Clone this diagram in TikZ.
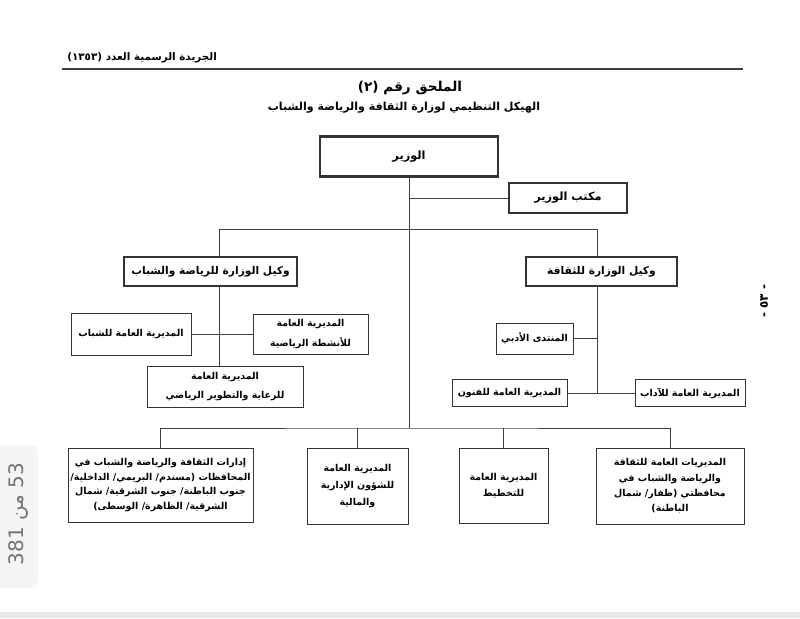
\documentclass[tikz,border=0pt]{standalone}
\usepackage{fontspec}
\newfontfamily\arabicfont[Script=Arabic]{DejaVu Sans}
\TeXXeTstate=1
\newcommand{\rtl}[1]{\beginR#1\endR}
\tikzset{
	unit/.style={draw=black!80, line width=0.75pt, fill=white, align=center, inner sep=1pt, font=\arabicfont\bfseries\fontsize{7.1}{11}\selectfont},
	head/.style={unit, line width=1.2pt, font=\arabicfont\bfseries\fontsize{8}{11}\selectfont},
	link/.style={draw=black!75, line width=0.75pt},
}

\begin{document}
\begin{tikzpicture}[x=0.75pt,y=-0.75pt]
		%%%%% START %%%%%
		\useasboundingbox (0,0) rectangle (800,618);
		\fill[white] (0,0) rectangle (800,618);
		\fill[black!9] (0,612) rectangle (800,618);
		\fill[black!4, rounded corners=6pt] (-10,445) rectangle (38,588);
		\node[rotate=90, text=black!55, font=\arabicfont\fontsize{15}{15}\selectfont] (pagecount) at (19,514) {\rtl{53 من 381}};
		
		% page head
		\node[anchor=west, inner sep=0pt, font=\arabicfont\bfseries\fontsize{7.8}{9}\selectfont] (gazette) at (67,58) {\rtl{الجريدة الرسمية العدد (١٣٥٣)}};
		\draw[line width=1.1pt, black!75] (62,69) -- (743,69);
		\node[font=\arabicfont\bfseries\fontsize{10.2}{12}\selectfont] (annex) at (410,88) {\rtl{الملحق رقم (٢)}};
		\node[font=\arabicfont\bfseries\fontsize{8.3}{11}\selectfont] (chart) at (404,108) {\rtl{الهيكل التنظيمي لوزارة الثقافة والرياضة والشباب}};
		\node[rotate=90, font=\arabicfont\bfseries\fontsize{9}{10}\selectfont] (pageno) at (764,301) {- ٥٣ -};
		
		% minister and deputies
		\node[head, line width=2.2pt, minimum width=133.5pt, minimum height=30pt, font=\arabicfont\bfseries\fontsize{8.5}{11}\selectfont] (minister) at (409,156.5) {\rtl{الوزير}};
		\node[head, line width=1pt, minimum width=88.5pt, minimum height=22.5pt, font=\arabicfont\bfseries\fontsize{8.5}{11}\selectfont] (office) at (568,198) {\rtl{مكتب الوزير}};
		\node[head, minimum width=129.75pt, minimum height=21.75pt] (depsport) at (210.5,271.5) {\rtl{وكيل الوزارة للرياضة والشباب}};
		\node[head, minimum width=113.25pt, minimum height=21.75pt] (depculture) at (601.5,271.5) {\rtl{وكيل الوزارة للثقافة}};
		
		% sport side
		\node[unit, minimum width=90pt, minimum height=31.5pt] (youth) at (131,334) {\rtl{المديرية العامة للشباب}};
		\node[unit, minimum width=86.25pt, minimum height=30pt] (activity) at (310.5,334) {\rtl{المديرية العامة}\\[3.5pt]\rtl{للأنشطة الرياضية}};
		\node[unit, minimum width=117pt, minimum height=30.75pt] (care) at (225,386.5) {\rtl{المديرية العامة}\\[3.5pt]\rtl{للرعاية والتطوير الرياضي}};
		
		% culture side
		\node[unit, minimum width=57.75pt, minimum height=23.25pt] (forum) at (534.5,338.5) {\rtl{المنتدى الأدبي}};
		\node[unit, minimum width=86.25pt, minimum height=20.25pt] (arts) at (509.5,393) {\rtl{المديرية العامة للفنون}};
		\node[unit, minimum width=82.5pt, minimum height=20.25pt] (letters) at (690,393) {\rtl{المديرية العامة للآداب}};
		
		% bottom row
		\node[unit, minimum width=138.75pt, minimum height=55.5pt] (regions) at (160.5,485) {\rtl{إدارات الثقافة والرياضة والشباب في}\\\rtl{المحافظات (مسندم/ البريمي/ الداخلية/}\\\rtl{جنوب الباطنة/ جنوب الشرقية/ شمال}\\\rtl{الشرقية/ الظاهرة/ الوسطى)}};
		\node[unit, minimum width=75.75pt, minimum height=57pt] (admin) at (357.5,486) {\rtl{المديرية العامة}\\[2pt]\rtl{للشؤون الإدارية}\\[2pt]\rtl{والمالية}};
		\node[unit, minimum width=66.75pt, minimum height=56.25pt] (planning) at (503.5,485.5) {\rtl{المديرية العامة}\\[0.8pt]\rtl{للتخطيط}};
		\node[unit, minimum width=111pt, minimum height=57pt] (dhofar) at (670,486) {\rtl{المديريات العامة للثقافة}\\[0.6pt]\rtl{والرياضة والشباب في}\\[0.6pt]\rtl{محافظتي (ظفار/ شمال}\\[0.6pt]\rtl{الباطنة)}};
		
		% connectors
		\coordinate (busL) at (219,229);
		\coordinate (busR) at (597,229);
		\coordinate (busB) at (409,428);
		\draw[link] (minister.south) -- (busB);
		\draw[link] (minister.south |- office.west) -- (office.west);
		\draw[link] (busL) -- (busR);
		\draw[link] (busL) -- (busL |- depsport.north);
		\draw[link] (busR) -- (busR |- depculture.north);
		\draw[link] (busL |- depsport.south) -- (busL |- care.north);
		\draw[link] (youth.east) -- (activity.west);
		\draw[link] (busR |- depculture.south) -- (busR |- arts.east);
		\draw[link] (forum.east) -- (busR |- forum.east);
		\draw[link] (arts.east) -- (letters.west);
		\draw[link] (regions.north) |- (busB) -| (dhofar.north);
		\draw[link] (admin.north) -- (admin.north |- busB);
		\draw[link] (planning.north) -- (planning.north |- busB);
		
		%%%%% END %%%%%
	\end{tikzpicture}
\end{document}
